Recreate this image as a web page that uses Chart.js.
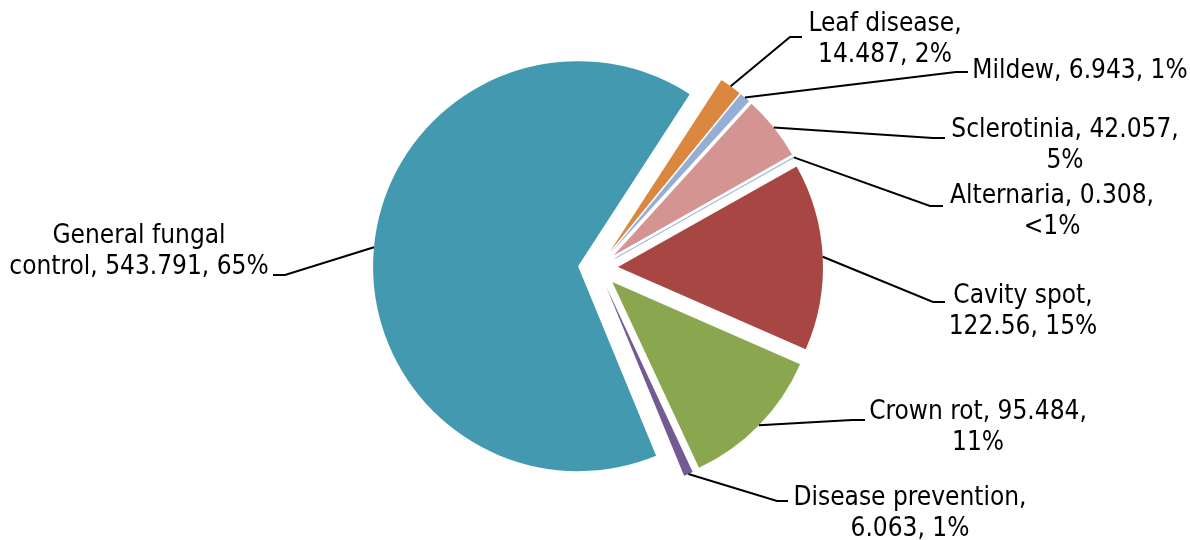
<!DOCTYPE html>
<html><head><meta charset="utf-8">
<script src="https://cdn.jsdelivr.net/npm/chart.js@4.4.1/dist/chart.umd.min.js"></script>
<style>html,body{margin:0;padding:0;background:#fff}canvas{display:block}</style>
</head><body>
<canvas id="c" width="1190" height="540"></canvas>
<script>
// ---- data ----
const categories = ["Leaf disease", "Mildew", "Sclerotinia", "Alternaria", "Cavity spot", "Crown rot", "Disease prevention", "General fungal control"];
const values = [14.487, 6.943, 42.057, 0.308, 122.56, 95.484, 6.063, 543.791];
const valueLabels = ["14.487", "6.943", "42.057", "0.308", "122.56", "95.484", "6.063", "543.791"];
const colors = ["#DB873F", "#95AED5", "#D49592", "#A4C0E3", "#A84644", "#8AA64E", "#735A93", "#439AB0"];
// words on the first line of each wrapped label
const firstLineWords = [2, 99, 2, 2, 2, 3, 2, 2];

// ---- label layout (text centre x, first baseline y, leader elbow, leader end) ----
const labelLayout = [
  {x: 885,  y: 31,  elbow: [790, 37],  end: [802, 37]},
  {x: 1080, y: 78,  elbow: [956, 72],  end: [968, 72]},
  {x: 1065, y: 137, elbow: [933, 138], end: [945, 138]},
  {x: 1052, y: 203, elbow: [930, 206], end: [943, 206]},
  {x: 1023, y: 303, elbow: [933, 302], end: [945, 302]},
  {x: 978,  y: 419, elbow: [852, 420], end: [865, 420]},
  {x: 910,  y: 505, elbow: [777, 501], end: [788, 501]},
  {x: 139,  y: 243, elbow: [285, 275], end: [273, 275]}
];
const lineHeight = 31;
const explode = 20;

const total = values.reduce((a, b) => a + b, 0);
function pctText(v) {
  const p = v / total * 100;
  return p < 0.5 ? "<1%" : Math.round(p) + "%";
}
function labelLinesFor(i) {
  const words = (categories[i] + ", " + valueLabels[i] + ", " + pctText(values[i])).split(" ");
  const n = firstLineWords[i];
  const l1 = words.slice(0, n).join(" ");
  const l2 = words.slice(n).join(" ");
  return l2 ? [l1, l2] : [l1];
}

const explodePlugin = {
  id: 'explode',
  afterDatasetsUpdate(chart) {
    chart.getDatasetMeta(0).data.forEach(arc => {
      const mid = (arc.startAngle + arc.endAngle) / 2;
      arc.x += explode * Math.cos(mid);
      arc.y += explode * Math.sin(mid);
    });
  }
};

const labelPlugin = {
  id: 'pieLabels',
  afterDatasetsDraw(chart) {
    const ctx = chart.ctx;
    const arcs = chart.getDatasetMeta(0).data;
    ctx.save();
    ctx.font = '26px "DejaVu Sans Condensed"';
    ctx.fillStyle = '#000';
    ctx.strokeStyle = '#000';
    ctx.lineWidth = 2;
    ctx.textAlign = 'center';
    ctx.textBaseline = 'alphabetic';
    arcs.forEach((arc, i) => {
      const L = labelLayout[i];
      const mid = (arc.startAngle + arc.endAngle) / 2;
      const px = arc.x + arc.outerRadius * Math.cos(mid);
      const py = arc.y + arc.outerRadius * Math.sin(mid);
      ctx.beginPath();
      ctx.moveTo(px, py);
      ctx.lineTo(L.elbow[0], L.elbow[1]);
      ctx.lineTo(L.end[0], L.end[1]);
      ctx.stroke();
      labelLinesFor(i).forEach((t, k) => ctx.fillText(t, L.x, L.y + k * lineHeight));
    });
    ctx.restore();
  }
};

new Chart(document.getElementById('c'), {
  type: 'pie',
  data: {
    labels: categories,
    datasets: [{
      data: values,
      backgroundColor: colors,
      borderColor: colors.map((c, i) => i === 3 ? c : '#ffffff'),
      borderWidth: values.map((v, i) => i === 3 ? 1 : 0)
    }]
  },
  options: {
    responsive: false,
    animation: false,
    events: [],
    rotation: 33,
    radius: 205,
    layout: {padding: {left: 6, right: 0, top: 0, bottom: 4}},
    plugins: {legend: {display: false}, tooltip: {enabled: false}}
  },
  plugins: [explodePlugin, labelPlugin]
});
</script>
</body></html>
